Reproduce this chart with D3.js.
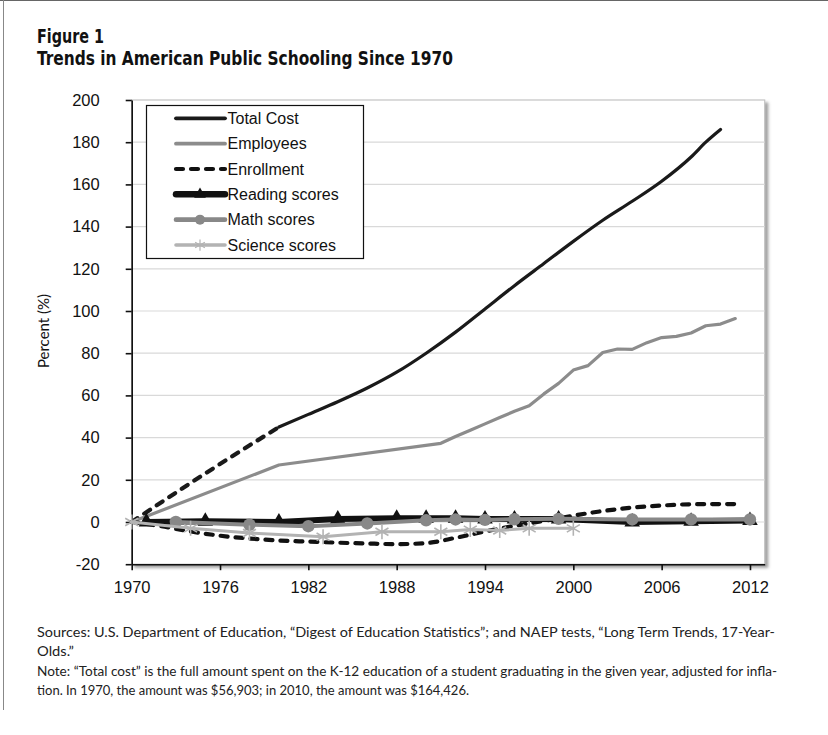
<!DOCTYPE html>
<html>
<head>
<meta charset="utf-8">
<script src="https://cdn.jsdelivr.net/npm/d3@7"></script>
<style>
body { margin: 0; background: #fff; }
</style>
</head>
<body>
<script>
// chart values
var costYears = [1970, 1975, 1980, 1982, 1984, 1986, 1988, 1990, 1992, 1994, 1996, 1998, 2000, 2002, 2004, 2006, 2008, 2009, 2010];
var costValues = [0, 23, 45, 51, 57, 63.5, 71, 80, 90, 101, 112, 122.5, 133, 143, 152, 161.5, 173, 180, 186];

var employeeYears = [1970, 1980, 1991, 1992, 1993, 1994, 1995, 1996, 1997, 1998, 1999, 2000, 2001, 2002, 2003, 2004, 2005, 2006, 2007, 2008, 2009, 2010, 2011];
var employeeValues = [0, 27, 37.3, 40.5, 43.5, 46.5, 49.5, 52.5, 55.1, 60.7, 65.7, 72, 74.1, 80.3, 82, 81.8, 85, 87.4, 88, 89.6, 93, 93.8, 96.4];

var enrollYears = [1970, 1972, 1974, 1976, 1978, 1980, 1982, 1984, 1986, 1988, 1990, 1992, 1994, 1996, 1998, 2000, 2002, 2004, 2006, 2008, 2010, 2011];
var enrollValues = [0, -2, -4.5, -6.5, -7.8, -8.8, -9.3, -9.8, -10.2, -10.5, -10, -7.5, -4.5, -1.8, 0.5, 3, 5.2, 6.8, 7.8, 8.4, 8.5, 8.5];

var readingYears = [1971, 1975, 1980, 1984, 1988, 1990, 1992, 1994, 1996, 1999, 2004, 2008, 2012];
var readingValues = [0, 0.4, 0, 1.4, 1.8, 1.8, 1.8, 1.4, 1.4, 1.4, 0, 0.4, 0.7];

var mathYears = [1973, 1978, 1982, 1986, 1990, 1992, 1994, 1996, 1999, 2004, 2008, 2012];
var mathValues = [0, -1.3, -2, -0.7, 0.8, 1.2, 1, 1.3, 1.5, 1.2, 1.2, 1.2];

var scienceYears = [1970, 1974, 1978, 1983, 1987, 1991, 1993, 1995, 1997, 2000];
var scienceValues = [0, -3, -5.2, -7, -4.6, -4.6, -3.6, -4, -3, -3];

var seriesNames = ["Total Cost", "Employees", "Enrollment", "Reading scores", "Math scores", "Science scores"];
var xTicks = [1970, 1976, 1982, 1988, 1994, 2000, 2006, 2012];
var yTicks = [-20, 0, 20, 40, 60, 80, 100, 120, 140, 160, 180, 200];

var titleLines = ["Figure 1", "Trends in American Public Schooling Since 1970"];
var noteLines = [
    "Sources: U.S. Department of Education, \u201cDigest of Education Statistics\u201d; and NAEP tests, \u201cLong Term Trends, 17-Year-",
    "Olds.\u201d",
    "Note: \u201cTotal cost\u201d is the full amount spent on the K-12 education of a student graduating in the given year, adjusted for infla-",
    "tion. In 1970, the amount was $56,903; in 2010, the amount was $164,426."
];

var zip = function(xs, vs) {
    return xs.map(function(d, i) { return { year: d, value: vs[i] }; });
};

var plot = { left: 131.7, right: 764.7, top: 100, bottom: 564.2 };
var axisFont = "'Liberation Sans', Arial, sans-serif";
var noteFont = "Lato, 'Open Sans', sans-serif";

var svg = d3.select("body").append("svg")
    .attr("width", 828)
    .attr("height", 735);

var defs = svg.append("defs");
var shadow = defs.append("filter").attr("id", "shadow")
    .attr("x", "-5%").attr("y", "-5%").attr("width", "110%").attr("height", "110%");
shadow.append("feDropShadow")
    .attr("dx", 3).attr("dy", 3).attr("stdDeviation", 1.8)
    .attr("flood-color", "#777").attr("flood-opacity", 0.7);

// page frame
svg.append("line").attr("x1", 0).attr("x2", 828).attr("y1", 0.5).attr("y2", 0.5)
    .attr("stroke", "#666").attr("stroke-width", 1);
svg.append("line").attr("x1", 3.5).attr("x2", 3.5).attr("y1", 0).attr("y2", 710)
    .attr("stroke", "#888").attr("stroke-width", 1);

// title
var titleWidths = [67, 416];
svg.selectAll("text.title")
    .data(titleLines)
    .enter().append("text")
    .attr("class", "title")
    .attr("x", 37)
    .attr("y", function(d, i) { return 43 + i * 21.5; })
    .attr("textLength", function(d, i) { return titleWidths[i]; })
    .attr("lengthAdjust", "spacingAndGlyphs")
    .attr("font-family", "'Liberation Sans Narrow', 'DejaVu Sans Condensed', sans-serif")
    .attr("font-weight", "bold")
    .attr("font-size", 19)
    .attr("fill", "#111")
    .text(function(d) { return d; });

var x = d3.scaleLinear().domain([1970, 2013]).range([plot.left, plot.right]);
var y = d3.scaleLinear().domain([-20, 200]).range([plot.bottom, plot.top]);

// plot area with its shadow
svg.append("rect")
    .attr("x", plot.left).attr("y", plot.top)
    .attr("width", plot.right - plot.left).attr("height", plot.bottom - plot.top)
    .attr("fill", "#fff")
    .attr("stroke", "#c4c4c4")
    .attr("stroke-width", 1.2)
    .attr("filter", "url(#shadow)");

svg.append("g").selectAll("line")
    .data(yTicks.filter(function(d) { return d > -20 && d < 200; }))
    .enter().append("line")
    .attr("x1", plot.left).attr("x2", plot.right)
    .attr("y1", function(d) { return y(d); })
    .attr("y2", function(d) { return y(d); })
    .attr("stroke", "#d9d9d9")
    .attr("stroke-width", 1.2);

var yAxis = svg.append("g")
    .attr("transform", "translate(" + plot.left + ",0)")
    .call(d3.axisLeft(y).tickValues(yTicks).tickFormat(function(d) { return String(d); })
        .tickSize(6).tickPadding(26).tickSizeOuter(0));
var xAxis = svg.append("g")
    .attr("transform", "translate(0," + plot.bottom + ")")
    .call(d3.axisBottom(x).tickValues(xTicks).tickFormat(function(d) { return String(d); })
        .tickSize(6).tickPadding(11).tickSizeOuter(0));

[yAxis, xAxis].forEach(function(g) {
    g.select(".domain").attr("stroke", "#111").attr("stroke-width", 1.6);
    g.selectAll(".tick line").attr("stroke", "#111").attr("stroke-width", 1.6);
    g.selectAll(".tick text")
        .attr("font-family", axisFont)
        .attr("font-size", 16.5)
        .attr("fill", "#111");
});

svg.append("text")
    .attr("transform", "translate(49,331) rotate(-90)")
    .attr("text-anchor", "middle")
    .attr("font-family", noteFont)
    .attr("font-size", 15)
    .attr("fill", "#111")
    .text("Percent (%)");

// series
var line = d3.line()
    .x(function(d) { return x(d.year); })
    .y(function(d) { return y(d.value); });
var smoothLine = d3.line()
    .curve(d3.curveMonotoneX)
    .x(function(d) { return x(d.year); })
    .y(function(d) { return y(d.value); });

var starPath = "M0,-7.5L0,7.5M-6.5,-3.75L6.5,3.75M-6.5,3.75L6.5,-3.75";

var series = [
    { name: seriesNames[0], data: zip(costYears, costValues), color: "#1a1a1a", width: 3.2, smooth: true },
    { name: seriesNames[1], data: zip(employeeYears, employeeValues), color: "#8c8c8c", width: 3.2 },
    { name: seriesNames[2], data: zip(enrollYears, enrollValues), color: "#111", width: 4.2, dash: "7,8", smooth: true },
    { name: seriesNames[3], data: zip(readingYears, readingValues), color: "#111", width: 6, marker: "triangle" },
    { name: seriesNames[4], data: zip(mathYears, mathValues), color: "#888", width: 4, marker: "circle" },
    { name: seriesNames[5], data: zip(scienceYears, scienceValues), color: "#b3b3b3", width: 3, marker: "star" }
];

var drawMarkers = function(g, s, pts) {
    if (s.marker === "triangle") {
        g.selectAll("path.m").data(pts).enter().append("path").attr("class", "m")
            .attr("d", d3.symbol(d3.symbolTriangle, 105)())
            .attr("transform", function(d) { return "translate(" + x(d.year) + "," + y(d.value) + ")"; })
            .attr("fill", s.color);
    } else if (s.marker === "circle") {
        g.selectAll("circle.m").data(pts).enter().append("circle").attr("class", "m")
            .attr("cx", function(d) { return x(d.year); })
            .attr("cy", function(d) { return y(d.value); })
            .attr("r", 6.2)
            .attr("fill", s.color);
    } else if (s.marker === "star") {
        g.selectAll("path.m").data(pts).enter().append("path").attr("class", "m")
            .attr("d", starPath)
            .attr("transform", function(d) { return "translate(" + x(d.year) + "," + y(d.value) + ")"; })
            .attr("stroke", s.color)
            .attr("stroke-width", 1.6)
            .attr("fill", "none");
    }
};

series.forEach(function(s, i) {
    var g = svg.append("g");
    var gen = s.smooth ? smoothLine : line;
    if (i === 0) {
        // early part of the cost series is drawn dashed
        g.append("path")
            .attr("d", gen(s.data.filter(function(d) { return d.year <= 1980; })))
            .attr("fill", "none").attr("stroke", s.color)
            .attr("stroke-width", 4.2).attr("stroke-dasharray", "7,8").attr("stroke-linecap", "round");
        g.append("path")
            .attr("d", gen(s.data.filter(function(d) { return d.year >= 1980; })))
            .attr("fill", "none").attr("stroke", s.color)
            .attr("stroke-width", s.width).attr("stroke-linecap", "round");
    } else {
        g.append("path")
            .attr("d", gen(s.data))
            .attr("fill", "none")
            .attr("stroke", s.color)
            .attr("stroke-width", s.width)
            .attr("stroke-linejoin", "round")
            .attr("stroke-linecap", "round")
            .attr("stroke-dasharray", s.dash || null);
    }
    drawMarkers(g, s, s.data);
});

// legend
var legend = svg.append("g");
legend.append("rect")
    .attr("x", 146.5).attr("y", 105.5).attr("width", 217).attr("height", 153)
    .attr("fill", "#fff").attr("stroke", "#111").attr("stroke-width", 1.2);

var legendY = d3.scaleLinear().domain([0, 5]).range([118.3, 245]);
series.forEach(function(s, i) {
    var g = legend.append("g");
    var ly = legendY(i);
    g.append("line")
        .attr("x1", 176).attr("x2", 225).attr("y1", ly).attr("y2", ly)
        .attr("stroke", s.color)
        .attr("stroke-width", i === 3 ? 6.5 : (i === 2 ? 4.2 : s.width + 0.6))
        .attr("stroke-linecap", "round")
        .attr("stroke-dasharray", i === 2 ? "7,8" : null);
    if (s.marker === "triangle") {
        g.append("path").attr("d", d3.symbol(d3.symbolTriangle, 60)())
            .attr("transform", "translate(200," + ly + ")").attr("fill", s.color);
    } else if (s.marker === "circle") {
        g.append("circle").attr("cx", 200).attr("cy", ly).attr("r", 5).attr("fill", s.color);
    } else if (s.marker === "star") {
        g.append("path").attr("d", starPath)
            .attr("transform", "translate(200," + ly + ") scale(0.75)")
            .attr("stroke", s.color).attr("stroke-width", 1.6).attr("fill", "none");
    }
    g.append("text")
        .attr("x", 227.5).attr("y", ly)
        .attr("dy", "0.35em")
        .attr("font-family", axisFont)
        .attr("font-size", 16)
        .attr("fill", "#111")
        .text(s.name);
});

// footnotes
var noteWidths = [738, 37, 740, 432];
svg.selectAll("text.note")
    .data(noteLines)
    .enter().append("text")
    .attr("class", "note")
    .attr("x", 37)
    .attr("y", function(d, i) { return 637 + i * 19.3; })
    .attr("textLength", function(d, i) { return noteWidths[i]; })
    .attr("lengthAdjust", "spacingAndGlyphs")
    .attr("font-family", noteFont)
    .attr("font-size", 13.5)
    .attr("fill", "#222")
    .text(function(d) { return d; });
</script>
</body>
</html>
